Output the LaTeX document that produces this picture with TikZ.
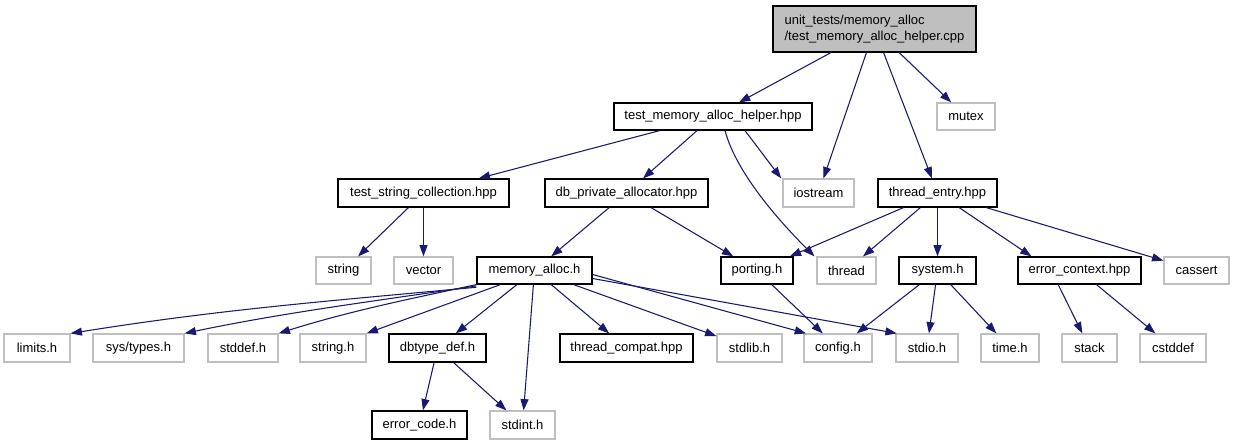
\documentclass[tikz,border=0pt]{standalone}
\usepackage{fontspec}
\setmainfont{Liberation Sans}
\usetikzlibrary{arrows.meta,calc}
\definecolor{edgeblue}{HTML}{191970}
\definecolor{lgray}{HTML}{BFBFBF}
\newcommand\gnode[7]{\node[#6, minimum width={(#4-#2)*0.75pt}, minimum height={(#5-#3)*0.75pt}] (#1) at ({(#2+#4)/2},{(#3+#5)/2}) {#7};}
\begin{document}
\begin{tikzpicture}[x=0.75pt,y=-0.75pt,
  font=\fontsize{9.75}{12}\selectfont,
  base/.style={rectangle, inner sep=0pt, line width=0.9pt},
  blk/.style={base, draw=black},
  gry/.style={base, draw=lgray},
  rootbox/.style={base, draw=black, fill=lgray, align=left},
  e/.style={draw=edgeblue, line width=0.8pt, -{Triangle[length=8.5pt,width=6pt]}, fill=none}
]
\useasboundingbox (0,0) rectangle (1235,445);
% nodes
\gnode{root}{773}{6}{976}{52}{rootbox}{unit\_tests/memory\_alloc\\/test\_memory\_alloc\_helper.cpp}
\gnode{tmah}{614}{103}{812}{130}{blk}{test\_memory\_alloc\_helper.hpp}
\gnode{mutex}{937}{103}{995}{130}{gry}{mutex}
\gnode{tsc}{338}{179}{509}{207}{blk}{test\_string\_collection.hpp}
\gnode{dpa}{545}{179}{708}{207}{blk}{db\_private\_allocator.hpp}
\gnode{iostream}{783}{179}{854}{207}{gry}{iostream}
\gnode{te}{878}{179}{997}{207}{blk}{thread\_entry.hpp}
\gnode{string}{316}{257}{371}{284}{gry}{string}
\gnode{vector}{394}{257}{453}{284}{gry}{vector}
\gnode{malloc}{477}{257}{592}{284}{blk}{memory\_alloc.h}
\gnode{porting}{721}{257}{793}{284}{blk}{porting.h}
\gnode{thread}{817}{257}{876}{284}{gry}{thread}
\gnode{system}{899}{257}{976}{284}{blk}{system.h}
\gnode{errctx}{1018}{257}{1141}{284}{blk}{error\_context.hpp}
\gnode{cassert}{1164}{257}{1229}{284}{gry}{cassert}
\gnode{limits}{4}{334}{70}{362}{gry}{limits.h}
\gnode{systypes}{93}{334}{184}{362}{gry}{sys/types.h}
\gnode{stddef}{208}{334}{278}{362}{gry}{stddef.h}
\gnode{stringh}{300}{334}{366}{362}{gry}{string.h}
\gnode{dbtype}{389}{334}{486}{362}{blk}{dbtype\_def.h}
\gnode{tcompat}{560}{334}{693}{362}{blk}{thread\_compat.hpp}
\gnode{stdlib}{717}{334}{782}{362}{gry}{stdlib.h}
\gnode{config}{804}{334}{872}{362}{gry}{config.h}
\gnode{stdio}{896}{334}{958}{362}{gry}{stdio.h}
\gnode{timeh}{981}{334}{1039}{362}{gry}{time.h}
\gnode{stack}{1062}{334}{1117}{362}{gry}{stack}
\gnode{cstddef}{1140}{334}{1206}{362}{gry}{cstddef}
\gnode{errcode}{372}{411}{467}{439}{blk}{error\_code.h}
\gnode{stdint}{490}{411}{555}{439}{gry}{stdint.h}
% edges
\draw[e] (root) -- (tmah);
\draw[e] (root) -- (iostream);
\draw[e] (root) -- (te);
\draw[e] (root) -- (mutex);
\draw[e] (tmah) -- (tsc);
\draw[e] (tmah) -- (dpa);
\draw[e] ([xshift=24]tmah.south) -- ([xshift=-28]iostream.north);
\draw[e] ([xshift=9]tmah.south) .. controls +(12,45) and +(-30,-30) .. ([xshift=-24]thread.north);
\draw[e] (tsc) -- (string);
\draw[e] (tsc) -- (vector);
\draw[e] (dpa) -- (malloc);
\draw[e] (dpa) -- (porting);
\draw[e] (te) -- (porting);
\draw[e] (te) -- (thread);
\draw[e] (te) -- (system);
\draw[e] (te) -- ([xshift=-36]errctx.north);
\draw[e] (te) -- (cassert);
\draw[e] ([yshift=-2]malloc.south west) .. controls +(-150,14) and +(150,-24) .. (limits.north east);
\draw[e] ([yshift=-1]malloc.south west) .. controls +(-100,15) and +(100,-21) .. (systypes.north east);
\draw[e] (malloc.south west) .. controls +(-70,15) and +(70,-22) .. (stddef.north east);
\draw[e] ([xshift=18]malloc.south west) -- (stringh.north east);
\draw[e] (malloc) -- (dbtype);
\draw[e] (malloc) -- (stdint);
\draw[e] (malloc) -- (tcompat);
\draw[e] (malloc) -- (stdlib);
\draw[e] ([yshift=-3]malloc.east) -- ([xshift=2]config.north west);
\draw[e] ([yshift=-6]malloc.east) -- ([xshift=1]stdio.north west);
\draw[e] (porting) -- (config);
\draw[e] (system) -- (config);
\draw[e] (system) -- (stdio);
\draw[e] (system) -- (timeh);
\draw[e] ([xshift=-16]errctx.south) -- (stack);
\draw[e] (errctx) -- (cstddef);
\draw[e] (dbtype) -- (errcode);
\draw[e] (dbtype) -- (stdint);
\end{tikzpicture}
\end{document}
